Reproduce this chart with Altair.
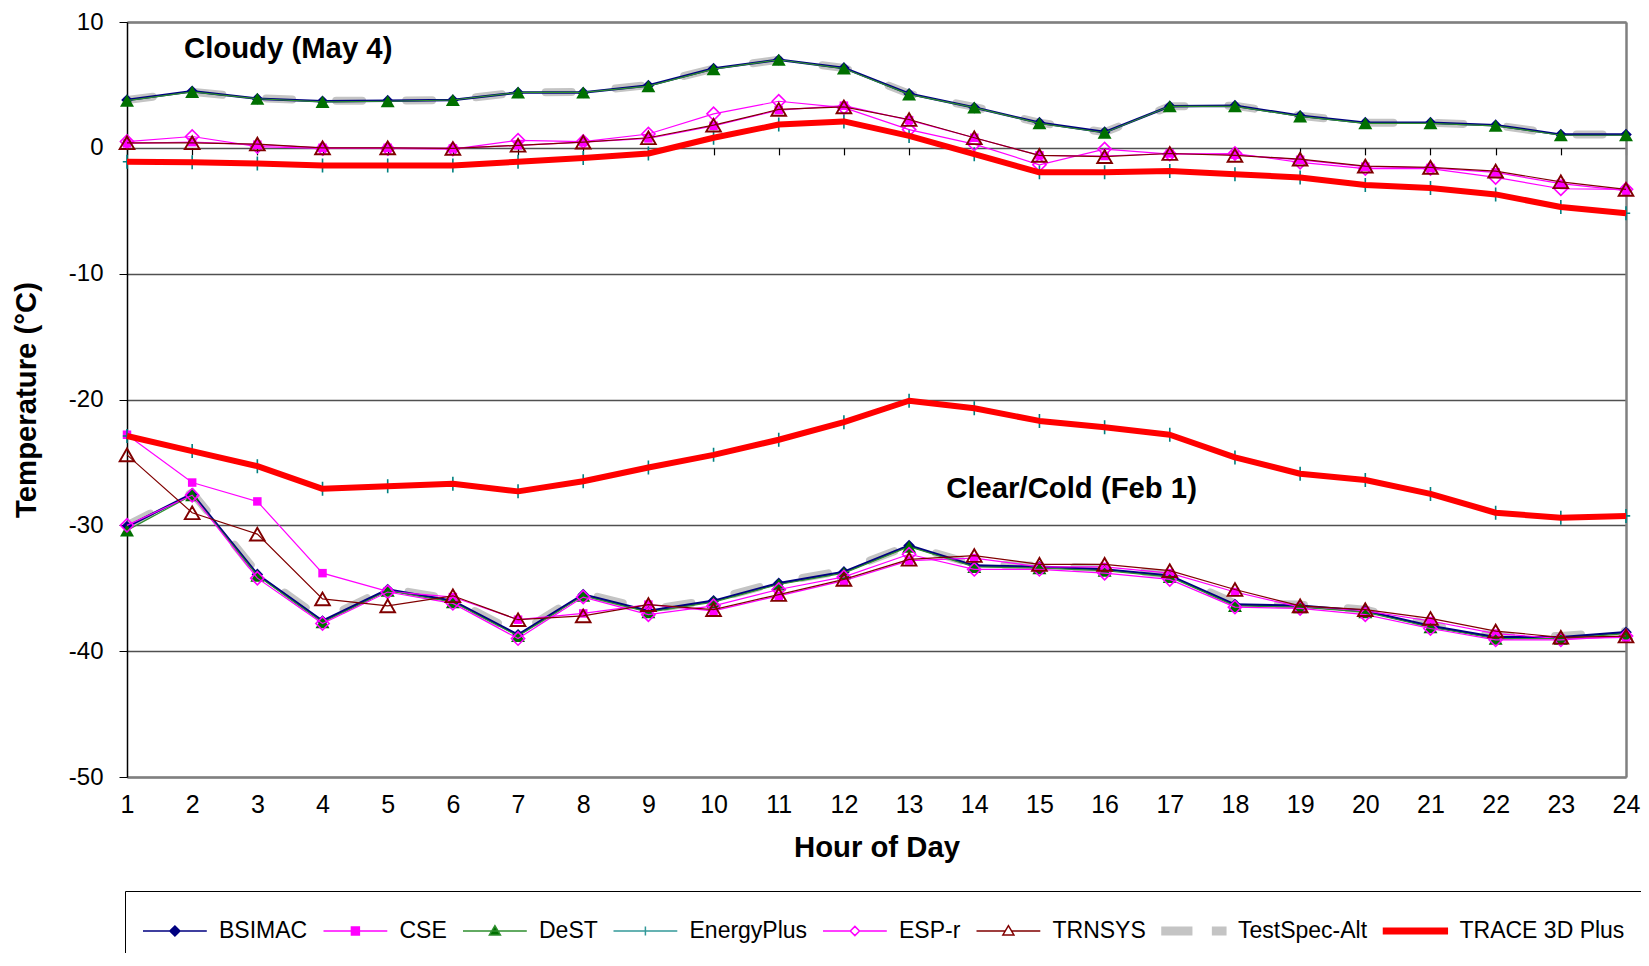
import altair as alt
import pandas as pd

hours = list(range(1, 25))
series_order = ["BSIMAC", "CSE", "DeST", "EnergyPlus", "ESP-r", "TRNSYS", "TestSpec-Alt", "TRACE 3D Plus"]
y_ticks = [-50, -40, -30, -20, -10, 0, 10]

# ---- Cloudy (May 4) ----
bsimac_cloudy = [3.8, 4.5, 3.9, 3.7, 3.75, 3.8, 4.4, 4.4, 4.95, 6.3, 7.0, 6.35, 4.3, 3.2, 2.0, 1.25, 3.3, 3.35, 2.55, 2.0, 2.0, 1.8, 1.05, 1.05]
cse_cloudy = [0.35, 0.45, 0.25, 0.0, 0.0, -0.05, 0.2, 0.45, 0.75, 1.75, 3.0, 3.35, 2.2, 0.8, -0.6, -0.65, -0.45, -0.55, -0.95, -1.5, -1.6, -1.95, -2.85, -3.4]
dest_cloudy = [3.75, 4.45, 3.9, 3.65, 3.7, 3.8, 4.4, 4.4, 4.9, 6.25, 7.0, 6.3, 4.25, 3.2, 1.95, 1.2, 3.3, 3.3, 2.5, 1.95, 1.95, 1.75, 1.0, 1.0]
energyplus_cloudy = [-1.1, -1.15, -1.25, -1.4, -1.4, -1.4, -1.1, -0.8, -0.45, 0.8, 1.85, 2.1, 0.95, -0.5, -1.95, -1.95, -1.85, -2.1, -2.35, -2.95, -3.2, -3.7, -4.7, -5.2]
espr_cloudy = [0.5, 0.9, 0.1, -0.05, -0.05, -0.1, 0.6, 0.5, 1.1, 2.7, 3.7, 3.2, 1.45, 0.3, -1.35, -0.1, -0.5, -0.45, -1.15, -1.65, -1.65, -2.35, -3.25, -3.3]
trnsys_cloudy = [0.4, 0.4, 0.3, 0.0, 0.0, -0.05, 0.2, 0.45, 0.8, 1.8, 3.05, 3.25, 2.25, 0.8, -0.6, -0.7, -0.45, -0.6, -0.9, -1.45, -1.55, -1.85, -2.7, -3.3]
testspec_cloudy = [3.8, 4.45, 3.95, 3.75, 3.75, 3.8, 4.4, 4.45, 5.0, 6.3, 7.0, 6.35, 4.3, 3.25, 2.0, 1.25, 3.3, 3.35, 2.55, 2.0, 2.0, 1.8, 1.05, 1.05]
trace_cloudy = [-1.1, -1.15, -1.25, -1.4, -1.4, -1.4, -1.1, -0.8, -0.45, 0.8, 1.85, 2.1, 0.95, -0.5, -1.95, -1.95, -1.85, -2.1, -2.35, -2.95, -3.2, -3.7, -4.7, -5.2]

# ---- Clear/Cold (Feb 1) ----
bsimac_clear = [-30.1, -27.5, -33.9, -37.6, -35.1, -36.0, -38.7, -35.5, -36.8, -36.0, -34.6, -33.7, -31.6, -33.2, -33.3, -33.5, -34.0, -36.3, -36.4, -36.8, -38.0, -38.9, -38.9, -38.5]
cse_clear = [-22.8, -26.6, -28.1, -33.8, -35.25, -35.7, -37.5, -37.0, -36.3, -36.8, -35.6, -34.4, -32.8, -32.6, -33.3, -33.3, -33.8, -35.3, -36.5, -36.8, -37.6, -38.6, -39.0, -38.9]
dest_clear = [-30.4, -27.6, -34.0, -37.7, -35.2, -36.1, -38.8, -35.6, -36.9, -36.1, -34.7, -33.8, -31.7, -33.3, -33.4, -33.6, -34.1, -36.4, -36.5, -36.9, -38.1, -39.0, -39.0, -38.6]
energyplus_clear = [-22.9, -24.1, -25.3, -27.1, -26.9, -26.7, -27.3, -26.5, -25.4, -24.4, -23.2, -21.8, -20.1, -20.7, -21.7, -22.2, -22.8, -24.6, -25.9, -26.4, -27.5, -29.0, -29.4, -29.25]
espr_clear = [-30.0, -27.6, -34.2, -37.8, -35.3, -36.2, -39.0, -35.7, -37.1, -36.4, -35.1, -34.1, -32.3, -33.5, -33.5, -33.8, -34.3, -36.5, -36.6, -37.1, -38.2, -39.1, -39.1, -38.8]
trnsys_clear = [-24.4, -29.0, -30.7, -35.85, -36.4, -35.6, -37.5, -37.2, -36.3, -36.7, -35.5, -34.3, -32.7, -32.4, -33.1, -33.1, -33.6, -35.1, -36.4, -36.7, -37.4, -38.4, -38.9, -38.8]
testspec_clear = [-30.0, -27.4, -33.8, -37.5, -35.0, -35.9, -38.6, -35.4, -36.7, -35.9, -34.5, -33.6, -31.6, -33.1, -33.2, -33.4, -33.9, -36.2, -36.3, -36.7, -37.9, -38.8, -38.8, -38.4]
trace_clear = [-22.9, -24.1, -25.3, -27.1, -26.9, -26.7, -27.3, -26.5, -25.4, -24.4, -23.2, -21.8, -20.1, -20.7, -21.7, -22.2, -22.8, -24.6, -25.9, -26.4, -27.5, -29.0, -29.4, -29.25]

annotation_labels = ["Cloudy (May 4)", "Clear/Cold (Feb 1)"]
annotation_hours = [1.875, 13.57]
annotation_temps = [7.86, -27.1]

series_data = {
    "BSIMAC": (bsimac_cloudy, bsimac_clear),
    "CSE": (cse_cloudy, cse_clear),
    "DeST": (dest_cloudy, dest_clear),
    "EnergyPlus": (energyplus_cloudy, energyplus_clear),
    "ESP-r": (espr_cloudy, espr_clear),
    "TRNSYS": (trnsys_cloudy, trnsys_clear),
    "TestSpec-Alt": (testspec_cloudy, testspec_clear),
    "TRACE 3D Plus": (trace_cloudy, trace_clear),
}

rows = []
for s, (cl, cc) in series_data.items():
    for h, v in zip(hours, cl):
        rows.append({"series": s, "case": "Cloudy", "hour": h, "temp": v})
    for h, v in zip(hours, cc):
        rows.append({"series": s, "case": "Clear", "hour": h, "temp": v})
df = pd.DataFrame(rows)
ann_df = pd.DataFrame({"label": annotation_labels, "hour": annotation_hours, "temp": annotation_temps})

FONT = "Liberation Sans"
W, H = 1499, 755
zero_offset = -(H - H * 10 / 60)

xscale = alt.Scale(domain=[1, 24], nice=False, zero=False)
yscale = alt.Scale(domain=[-50, 10], nice=False, zero=False)


def X(axis=None):
    return alt.X("hour:Q", scale=xscale, axis=axis)


def Y(axis=None):
    return alt.Y("temp:Q", scale=yscale, axis=axis)


base = alt.Chart(df)

main_x_axis = alt.Axis(values=hours, format="d", grid=False, ticks=False, tickSize=0, domain=True,
                       domainColor="#808080", domainWidth=2.5, labelFont=FONT, labelFontSize=25,
                       labelColor="black", labelPadding=15, labelFlush=False,
                       title="Hour of Day", titleFont=FONT, titleFontSize=29.3, titleFontWeight="bold",
                       titleColor="black", titleX=W / 2, titleY=70, titleBaseline="middle", titleAlign="center")
main_y_axis = alt.Axis(values=y_ticks, grid=True, gridColor="#505050", gridWidth=1.3, domain=True,
                       domainColor="black", domainWidth=1.5, ticks=True, tickSize=8, tickColor="black",
                       labelFont=FONT, labelFontSize=24, labelColor="black", labelPadding=16, labelFlush=False,
                       labelExpr="'' + datum.value",
                       title="Temperature (°C)", titleFont=FONT, titleFontSize=29.3, titleFontWeight="bold",
                       titleColor="black", titleX=-101, titleY=H / 2, titleBaseline="middle", titleAlign="center",
                       titleAngle=270)
zero_x_axis = alt.Axis(values=hours, orient="bottom", offset=zero_offset, labels=False, domain=False,
                       grid=False, ticks=True, tickSize=7, tickColor="black", tickWidth=1.2, title="")
top_x_axis = alt.Axis(orient="top", labels=False, ticks=False, grid=False, domain=True,
                      domainColor="#808080", domainWidth=2.5, title="")
right_y_axis = alt.Axis(orient="right", labels=False, ticks=False, grid=False, domain=True,
                        domainColor="#808080", domainWidth=2.5, title="")


def sel(s):
    return base.transform_filter(alt.datum.series == s)


layers = []
# TestSpec-Alt thick gray dashed line (carries main axes)
layers.append(sel("TestSpec-Alt").mark_line(color="#C4C4C4", strokeWidth=8, strokeDash=[26, 44],
                                            strokeCap="round", opacity=1)
              .encode(x=X(main_x_axis), y=Y(main_y_axis), detail="case:N"))
# BSIMAC
layers.append(sel("BSIMAC").mark_line(color="#000080", strokeWidth=2.5)
              .encode(x=X(top_x_axis), y=Y(right_y_axis), detail="case:N"))
layers.append(sel("BSIMAC").mark_point(shape="diamond", filled=True, size=135, color="#000080", opacity=1)
              .encode(x=X(), y=Y()))
# CSE
layers.append(sel("CSE").mark_line(color="#FF00FF", strokeWidth=1.2).encode(x=X(), y=Y(), detail="case:N"))
layers.append(sel("CSE").mark_point(shape="square", filled=True, size=72, color="#FF00FF", opacity=1)
              .encode(x=X(), y=Y()))
# DeST
layers.append(sel("DeST").mark_line(color="#2f8f2f", strokeWidth=1.2).encode(x=X(), y=Y(), detail="case:N"))
layers.append(sel("DeST").mark_point(shape="triangle-up", filled=True, size=195, color="#007000", opacity=1)
              .encode(x=X(), y=Y()))
# EnergyPlus
layers.append(sel("EnergyPlus").mark_line(color="#339999", strokeWidth=1.2).encode(x=X(), y=Y(), detail="case:N"))
layers.append(sel("EnergyPlus").mark_point(shape="M0,-1V1M-0.6,0H0.6", filled=False, size=196,
                                           color="#008080", strokeWidth=1.6, opacity=1)
              .encode(x=X(), y=Y()))
# ESP-r
layers.append(sel("ESP-r").mark_line(color="#FF00FF", strokeWidth=1.2).encode(x=X(), y=Y(), detail="case:N"))
layers.append(sel("ESP-r").mark_point(shape="diamond", filled=False, size=175, color="#FF00FF",
                                      strokeWidth=1.6, opacity=1)
              .encode(x=X(), y=Y()))
# TRNSYS
layers.append(sel("TRNSYS").mark_line(color="#800000", strokeWidth=1.2).encode(x=X(), y=Y(), detail="case:N"))
layers.append(sel("TRNSYS").mark_point(shape="triangle-up", filled=False, size=215, color="#800000",
                                       strokeWidth=1.9, opacity=1)
              .encode(x=X(), y=Y()))
# TRACE 3D Plus (carries zero-line ticks axis)
layers.append(sel("TRACE 3D Plus").mark_line(color="#FF0000", strokeWidth=6, strokeJoin="round")
              .encode(x=X(zero_x_axis), y=Y(), detail="case:N"))

# Annotations
layers.append(alt.Chart(ann_df).mark_text(align="left", baseline="middle", font=FONT, fontSize=29.3,
                                          fontWeight="bold", color="black")
              .encode(x=X(), y=Y(), text="label:N"))

# Legend layer (no visible marks; explicit domains drive the legend)
legend_paths = [
    "M-1,0H1.9M0.45,-0.23L0.68,0L0.45,0.23L0.22,0Z",
    "M-1,0H1.9M0.27,-0.18H0.63V0.18H0.27Z",
    "M-1,0H1.9M0.45,-0.24L0.7,0.18H0.2Z",
    "M-1,0H1.9M0.45,-0.2V0.2",
    "M-1,0H0.24M0.66,0H1.9M0.45,-0.21L0.66,0L0.45,0.21L0.24,0Z",
    "M-1,0H0.31M0.59,0H1.9M0.45,-0.24L0.7,0.18H0.2Z",
    "M-1,-0.17H0.35V0.17H-1ZM1.3,-0.17H1.9V0.17H1.3Z",
    "M-1,-0.13H1.9V0.13H-1Z",
]
legend_fill = ["#000080", "#FF00FF", "#007000", "transparent", "white", "white", "#C4C4C4", "#FF0000"]
legend_stroke = ["#000080", "#FF00FF", "#2f8f2f", "#339999", "#FF00FF", "#800000", "#C4C4C4", "#FF0000"]


def make_legend():
    return alt.Legend(title=None, orient="none", legendX=-2, legendY=869, direction="horizontal",
                      columns=8, symbolSize=1936, symbolStrokeWidth=1.5, labelFont=FONT, labelFontSize=23,
                      labelColor="black", labelOffset=31, columnPadding=12.5, padding=17, strokeColor="black",
                      fillColor="white", labelLimit=400)


layers.append(base.transform_filter("false").mark_point(opacity=1, filled=False)
              .encode(x=X(), y=Y(),
                      shape=alt.Shape("series:N", scale=alt.Scale(domain=series_order, range=legend_paths),
                                      legend=make_legend()),
                      fill=alt.Fill("series:N", scale=alt.Scale(domain=series_order, range=legend_fill),
                                    legend=make_legend()),
                      stroke=alt.Stroke("series:N", scale=alt.Scale(domain=series_order, range=legend_stroke),
                                        legend=make_legend())))

chart = (alt.layer(*layers)
         .resolve_axis(x="independent", y="independent")
         .properties(width=W, height=H, autosize=alt.AutoSizeParams(type="none"),
                     padding={"left": 119, "top": 14, "right": 15, "bottom": 176})
         .configure(font=FONT)
         .configure_view(strokeWidth=0))

chart.save("out.html", embed_options={"renderer": "svg", "actions": False})
